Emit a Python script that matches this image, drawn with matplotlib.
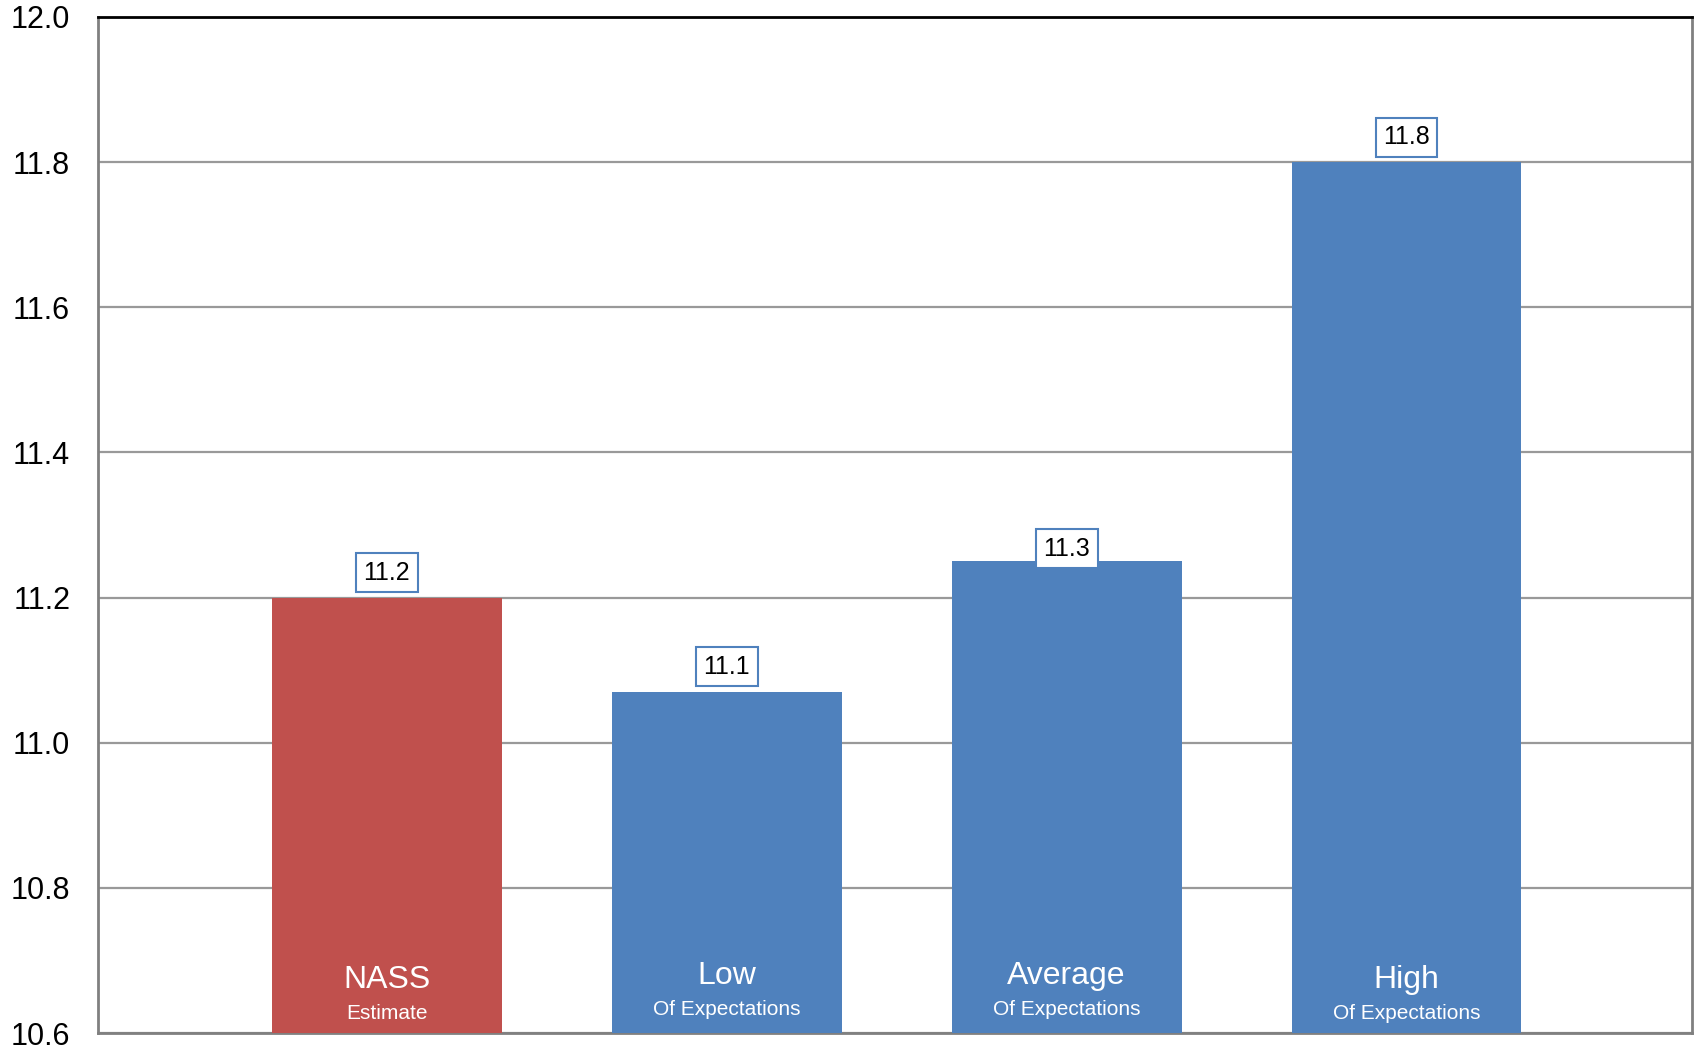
import matplotlib.pyplot as plt
import matplotlib.ticker as mticker
import matplotlib.transforms as mtransforms

plt.rcParams['font.family'] = ['Liberation Sans', 'DejaVu Sans']

# data
names = ["NASS", "Low", "Average", "High"]
subnames = ["Estimate", "Of Expectations", "Of Expectations", "Of Expectations"]
values = [11.2, 11.07, 11.25, 11.8]
value_labels = ["11.2", "11.1", "11.3", "11.8"]
colors = ["#C0504D", "#4F81BD", "#4F81BD", "#4F81BD"]
label_offsets = [18, 18, 9, 18]  # points above bar top

fig = plt.figure(figsize=(16.98, 10.48), dpi=100)
ax = fig.add_axes([0.0577, 0.0143, 0.9388, 0.9695])

x = list(range(len(names)))
ax.bar(x, values, width=0.676, color=colors, zorder=3)

ax.set_ylim(10.6, 12.0)
ax.set_xlim(-0.85, 3.84)
ax.yaxis.set_major_locator(mticker.MultipleLocator(0.2))
ax.yaxis.set_major_formatter(mticker.FormatStrFormatter('%.1f'))
ax.grid(axis='y', color='#999999', linewidth=1.6, zorder=0)
ax.set_xticks([])
ax.tick_params(axis='y', length=0, labelsize=22, pad=20)

ax.spines['top'].set_color('black')
ax.spines['top'].set_linewidth(2)
for s in ['left', 'bottom', 'right']:
    ax.spines[s].set_color('#808080')
    ax.spines[s].set_linewidth(2)

# nudge the bottom tick label so it stays inside the figure
fig.canvas.draw()
bottom_lab = ax.get_yticklabels()[0]
bottom_lab.set_transform(bottom_lab.get_transform() +
                         mtransforms.ScaledTranslation(0, 4 / 72, fig.dpi_scale_trans))

for xi, v, lbl, off in zip(x, values, value_labels, label_offsets):
    ax.annotate(lbl, (xi, v), xytext=(0, off), textcoords='offset points',
                ha='center', va='center', fontsize=18, zorder=5,
                bbox=dict(boxstyle='square,pad=0.3', fc='white', ec='#4F81BD', lw=1.5))

for xi, n, sn in zip(x, names, subnames):
    low = n in ("NASS", "High")
    ax.text(xi, 10.673 if low else 10.678, n,
            ha='center', va='center', color='white', fontsize=23, zorder=4)
    ax.text(xi, 10.627 if low else 10.632, sn,
            ha='center', va='center', color='white', fontsize=15, zorder=4)

fig.savefig("out.png", dpi=100)
